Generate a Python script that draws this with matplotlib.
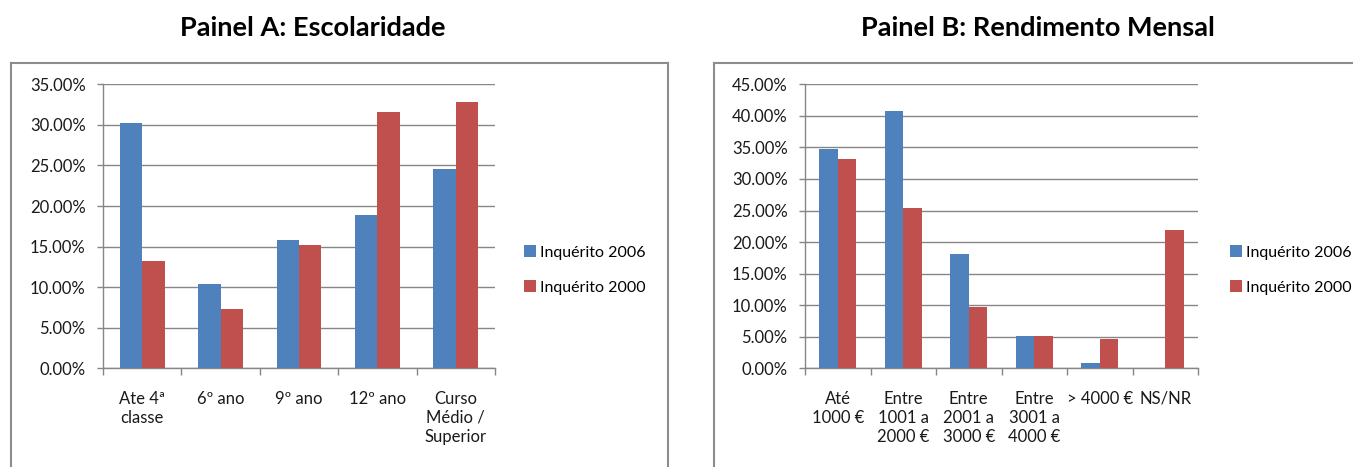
import matplotlib
matplotlib.use("Agg")
import matplotlib.pyplot as plt
from matplotlib.lines import Line2D
from matplotlib.ticker import FuncFormatter, MultipleLocator, FixedLocator
import numpy as np

plt.rcParams['font.family'] = ['Lato', 'DejaVu Sans']

# Panel A: schooling
cats_a = ["Ate 4ª\nclasse", "6º ano", "9º ano", "12º ano", "Curso\nMédio /\nSuperior"]
a_2006 = [30.28, 10.44, 15.78, 18.90, 24.57]
a_2000 = [13.19, 7.27, 15.20, 31.60, 32.79]

# Panel B: monthly income
cats_b = ["Até\n1000 €", "Entre\n1001 a\n2000 €", "Entre\n2001 a\n3000 €",
          "Entre\n3001 a\n4000 €", "> 4000 €", "NS/NR"]
b_2006 = [34.76, 40.73, 18.07, 5.18, 0.90, 0.0]
b_2000 = [33.12, 25.36, 9.67, 5.18, 4.60, 21.98]

series_labels = ["Inquérito 2006", "Inquérito 2000"]
BLUE = "#4F81BD"
RED = "#C0504D"
GRID = "#868686"
BOX = "#8C8C8C"

W, H = 1353, 467
fig = plt.figure(figsize=(W / 100, H / 100), dpi=100)


def px_axes(x0, x1, y0, y1):
    return fig.add_axes([x0 / W, 1 - y1 / H, (x1 - x0) / W, (y1 - y0) / H])


def draw_panel(ax, cats, s1, s2, ymax):
    n = len(cats)
    x = np.arange(n)
    bw = 0.286
    ax.bar(x - bw / 2, np.array(s1) / 100, bw, color=BLUE, label=series_labels[0], zorder=3)
    ax.bar(x + bw / 2, np.array(s2) / 100, bw, color=RED, label=series_labels[1], zorder=3)
    ax.set_xlim(-0.5, n - 0.5)
    ax.set_ylim(0, ymax)
    ax.yaxis.set_major_locator(MultipleLocator(0.05))
    ax.yaxis.set_major_formatter(FuncFormatter(lambda v, p: f"{v * 100:.2f}%"))
    ax.grid(axis='y', color=GRID, linewidth=1.0, zorder=0)
    ax.set_axisbelow(True)
    for s in ('top', 'right'):
        ax.spines[s].set_visible(False)
    for s in ('left', 'bottom'):
        ax.spines[s].set_color(GRID)
        ax.spines[s].set_linewidth(1.0)
    ax.set_xticks(x)
    ax.set_xticklabels(cats, linespacing=1.25)
    ax.xaxis.set_minor_locator(FixedLocator(np.arange(n + 1) - 0.5))
    ax.tick_params(axis='x', which='major', length=0, pad=16, labelsize=12, colors='#1a1a1a')
    ax.tick_params(axis='x', which='minor', length=5, color=GRID, width=1.0)
    ax.tick_params(axis='y', length=4.5, color=GRID, width=1.0, pad=8, labelsize=12,
                   labelcolor='#1a1a1a')
    for lab in ax.get_xticklabels():
        lab.set_verticalalignment('top')
        lab.set_horizontalalignment('center')


ax_a = px_axes(103, 495, 84.3, 368.3)
draw_panel(ax_a, cats_a, a_2006, a_2000, 0.35)
ax_b = px_axes(805, 1198, 84.3, 368.3)
draw_panel(ax_b, cats_b, b_2006, b_2000, 0.45)

for ax, lx in ((ax_a, 524), (ax_b, 1230)):
    ax.legend(loc='center left', bbox_to_anchor=(lx / W, 1 - 270 / H),
              bbox_transform=fig.transFigure, frameon=False, fontsize=11.5,
              handlelength=0.72, handleheight=0.72, handletextpad=0.3,
              labelspacing=1.3, borderpad=0, borderaxespad=0)

# Panel frames
def fig_line(xs, ys):
    fig.add_artist(Line2D([v / W for v in xs], [1 - v / H for v in ys],
                          color=BOX, linewidth=1.5, transform=fig.transFigure))

fig_line([11, 11], [470, 63])
fig_line([11, 668], [63, 63])
fig_line([668, 668], [63, 470])
fig_line([714, 714], [470, 63])
fig_line([714, 1360], [63, 63])

fig.text(313 / W, 1 - 28 / H, "Painel A: Escolaridade", ha='center', va='center',
         fontsize=19.5, fontweight='bold')
fig.text(1038 / W, 1 - 28 / H, "Painel B: Rendimento Mensal", ha='center', va='center',
         fontsize=19.5, fontweight='bold')

fig.savefig("out.png", dpi=100)
